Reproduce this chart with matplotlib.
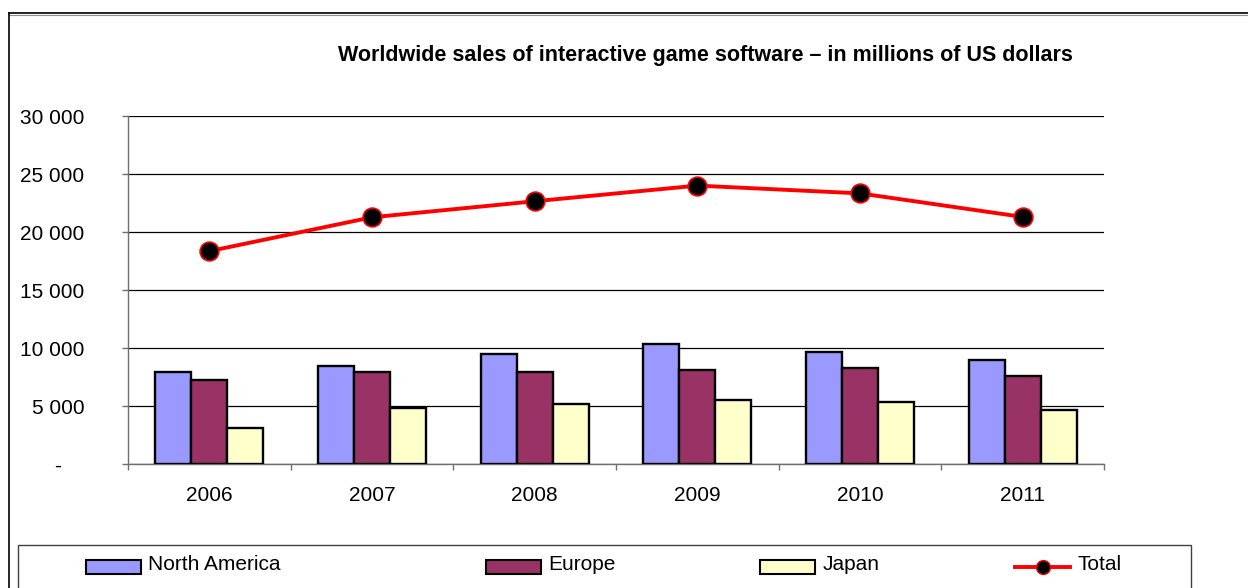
import matplotlib
matplotlib.use("Agg")
import matplotlib.pyplot as plt
import matplotlib.transforms as mtransforms
from matplotlib.patches import Rectangle, Patch
from matplotlib.lines import Line2D
from matplotlib.legend_handler import HandlerPatch, HandlerLine2D
from matplotlib.ticker import FuncFormatter, FixedLocator
import numpy as np

plt.rcParams['font.family'] = ['Liberation Sans', 'DejaVu Sans']

years = ["2006", "2007", "2008", "2009", "2010", "2011"]
north_america = [7930, 8470, 9480, 10340, 9650, 8970]
europe = [7240, 7930, 7930, 8100, 8280, 7590]
japan = [3100, 4830, 5170, 5520, 5370, 4650]
total = [18350, 21270, 22650, 24000, 23330, 21300]
series_names = ["North America", "Europe", "Japan", "Total"]
title = "Worldwide sales of interactive game software \u2013 in millions of US dollars"

colors = ["#9999FF", "#993366", "#FFFFCC"]

W, H = 1248, 588
fig = plt.figure(figsize=(W / 100, H / 100), dpi=100)
ax = fig.add_axes([128 / W, 1 - 464 / H, (1104 - 128) / W, (464 - 116) / H])

x = np.arange(len(years))
bw = 36 / ((1104 - 128) / 6)
for k, (vals, c) in enumerate(zip([north_america, europe, japan], colors)):
    ax.bar(x + (k - 1) * bw, vals, width=bw, color=c, edgecolor="black",
           linewidth=1.7, zorder=3)

ax.plot(x, total, color="#FF0000", linewidth=2.8, marker="o", markersize=13.5,
        markerfacecolor="black", markeredgecolor="#FF0000", markeredgewidth=1.2,
        zorder=4)

ax.set_xlim(-0.5, len(years) - 0.5)
ax.set_ylim(0, 30000)
ax.set_yticks(np.arange(0, 30001, 5000))
ax.yaxis.set_major_formatter(FuncFormatter(
    lambda v, p: "-" if v == 0 else "{:,.0f}".format(v).replace(",", " ")))
ax.grid(axis="y", color="black", linewidth=0.9, zorder=1)
ax.set_axisbelow(True)

ax.xaxis.set_major_locator(FixedLocator(np.arange(-0.5, len(years), 1.0)))
ax.xaxis.set_major_formatter(FuncFormatter(lambda v, p: ""))
ax.xaxis.set_minor_locator(FixedLocator(x))
ax.set_xticklabels(years, minor=True)
ax.tick_params(axis="x", which="major", direction="out", length=4.5,
               color="#707070", width=1.0)
ax.tick_params(axis="x", which="minor", length=0, labelsize=15, pad=16)
ax.tick_params(axis="y", direction="out", length=4.5, color="#707070",
               width=1.0, labelsize=15, pad=27)

for s in ["top", "right"]:
    ax.spines[s].set_visible(False)
for s in ["left", "bottom"]:
    ax.spines[s].set_color("#707070")
    ax.spines[s].set_linewidth(1.0)

fig.canvas.draw()
for lab in ax.get_yticklabels():
    if lab.get_text() == "-":
        lab.set_transform(lab.get_transform() + mtransforms.ScaledTranslation(
            -23 / 100, 0, fig.dpi_scale_trans))

fig.text(705 / W, 1 - 55 / H, title, ha="center", va="center",
         fontsize=15.5, fontweight="bold")

# outer frame
fig.add_artist(Line2D([9 / W, 1.0], [1 - 13 / H, 1 - 13 / H], color="black",
                      linewidth=1.2, transform=fig.transFigure))
fig.add_artist(Line2D([9 / W, 1.0], [1 - 15 / H, 1 - 15 / H], color="#909090",
                      linewidth=0.8, transform=fig.transFigure))
fig.add_artist(Line2D([9 / W, 9 / W], [0, 1 - 13 / H], color="black",
                      linewidth=1.2, transform=fig.transFigure))

# legend box
fig.add_artist(Rectangle((18 / W, -0.05), (1191 - 18) / W, 0.05 + (588 - 545) / H,
                         transform=fig.transFigure, facecolor="white",
                         edgecolor="#404040", linewidth=1.0))

SHIFT = 3.6  # points, handles sit a little lower than the text


def lowered_rect(legend, orig_handle, xdescent, ydescent, width, height, fontsize):
    return Rectangle((-xdescent, -ydescent - SHIFT), width, height)


class LoweredLine(HandlerLine2D):
    def create_artists(self, legend, orig_handle, xdescent, ydescent, width,
                       height, fontsize, trans):
        arts = super().create_artists(legend, orig_handle, xdescent, ydescent,
                                      width, height, fontsize, trans)
        for a in arts:
            a.set_ydata(np.asarray(a.get_ydata(), dtype=float) - SHIFT)
        return arts


handles = [Patch(facecolor=c, edgecolor="black", linewidth=1.5) for c in colors]
handles.append(Line2D([], [], color="#FF0000", linewidth=2.8, marker="o",
                      markersize=10, markerfacecolor="black",
                      markeredgecolor="#FF0000", markeredgewidth=1.0))
starts = [86, 486, 760, 1015]
for h, name, sx in zip(handles, series_names, starts):
    hmap = {Patch: HandlerPatch(patch_func=lowered_rect), Line2D: LoweredLine()}
    fig.legend([h], [name], loc="center left",
               bbox_to_anchor=(sx / W, 1 - 564 / H), frameon=False,
               fontsize=15, handlelength=2.65, handleheight=0.67,
               handletextpad=0.35, borderpad=0, borderaxespad=0,
               handler_map=hmap)

fig.savefig("out.png", dpi=100)
